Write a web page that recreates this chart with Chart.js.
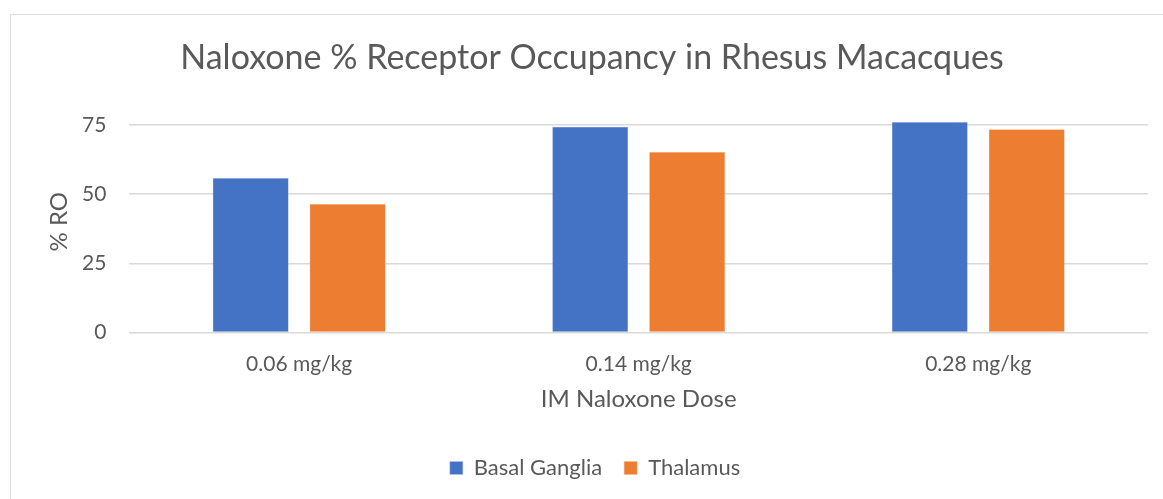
<!DOCTYPE html>
<html>
<head>
<meta charset="utf-8">
<script src="https://cdn.jsdelivr.net/npm/chart.js@4.4.1/dist/chart.umd.min.js"></script>
<style>
    html, body { margin: 0; padding: 0; background: #fff; }
    #frame {
        position: absolute;
        left: 10px;
        top: 14px;
        width: 1170px;
        height: 500px;
        border: 1.5px solid #dedede;
    }
    #chart { position: absolute; left: 0; top: 0; }
</style>
</head>
<body>
<div id="frame"></div>
<canvas id="chart" width="1163" height="499"></canvas>
<script>
const doses = ['0.06 mg/kg', '0.14 mg/kg', '0.28 mg/kg'];
const basalGanglia = [55.8, 74.3, 76.0];
const thalamus = [46.4, 65.2, 73.4];
const yTicks = [0, 25, 50, 75];

const textColor = '#595959';

// the original frame runs past the right edge, so title and legend sit a bit right of the canvas centre
const shiftBlocks = {
    id: 'shiftBlocks',
    afterLayout(chart) {
        if (chart.titleBlock) {
            chart.titleBlock.left += 13;
            chart.titleBlock.right += 13;
        }
        if (chart.legend) {
            chart.legend.left += 16;
            chart.legend.right += 16;
        }
    },
};

const ctx = document.getElementById('chart').getContext('2d');
const chart = new Chart(ctx, {
    type: 'bar',
    data: {
        labels: doses,
        datasets: [
            {
                label: 'Basal Ganglia',
                data: basalGanglia,
                backgroundColor: '#4472C4',
                borderColor: '#a9bfe6',
                borderWidth: 0.5,
            },
            {
                label: 'Thalamus',
                data: thalamus,
                backgroundColor: '#ED7D31',
                borderColor: '#f5b890',
                borderWidth: 0.5,
            },
        ],
    },
    options: {
        responsive: false,
        animation: false,
        categoryPercentage: 0.571,
        barPercentage: 0.784,
        layout: {
            padding: { left: 10, right: 15, top: 14, bottom: 10 },
        },
        scales: {
            y: {
                min: 0,
                max: 80,
                afterBuildTicks: (axis) => {
                    axis.ticks = yTicks.map((v) => ({ value: v }));
                },
                ticks: {
                    color: textColor,
                    padding: 23,
                    font: { family: 'Lato', size: 21 },
                },
                grid: {
                    color: '#d9d9d9',
                    lineWidth: 1.5,
                    drawTicks: false,
                },
                border: { display: false },
                title: {
                    display: true,
                    text: '% RO',
                    color: textColor,
                    font: { family: 'Lato', size: 24 },
                    padding: { top: 34.6, bottom: -14.4 },
                },
            },
            x: {
                ticks: {
                    color: textColor,
                    padding: 19.4,
                    font: { family: 'Lato', size: 21 },
                },
                grid: { display: false, drawTicks: false },
                border: { display: false },
                title: {
                    display: true,
                    text: 'IM Naloxone Dose',
                    color: textColor,
                    font: { family: 'Lato', size: 24 },
                    padding: { top: -11.4, bottom: 21.1 },
                },
            },
        },
        plugins: {
            title: {
                display: true,
                text: 'Naloxone % Receptor Occupancy in Rhesus Macacques',
                color: textColor,
                font: { family: 'Lato', size: 34, weight: 'normal' },
                padding: { top: 23.6, bottom: 32.6 },
            },
            legend: {
                position: 'bottom',
                labels: {
                    color: textColor,
                    boxWidth: 13,
                    boxHeight: 13,
                    padding: 22,
                    font: { family: 'Lato', size: 22 },
                },
            },
            tooltip: { enabled: false },
        },
    },
    plugins: [shiftBlocks],
});
</script>
</body>
</html>
